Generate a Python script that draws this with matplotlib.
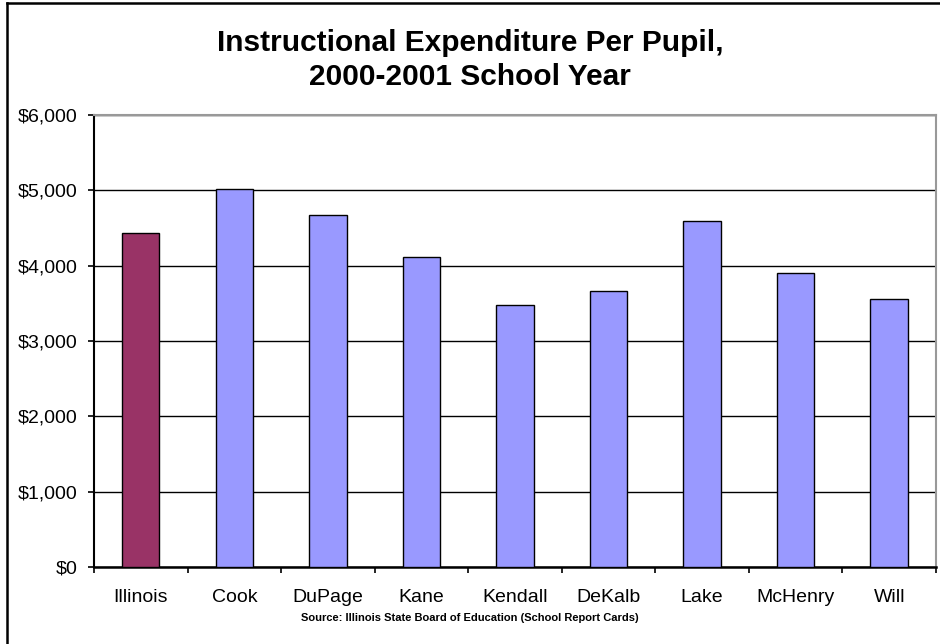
import matplotlib
matplotlib.use("Agg")
import matplotlib.pyplot as plt
from matplotlib.lines import Line2D
from matplotlib.ticker import FuncFormatter, FixedLocator

# datos
regiones = ['Illinois', 'Cook', 'DuPage', 'Kane', 'Kendall', 'DeKalb',
            'Lake', 'McHenry', 'Will']
gasto = [4430, 5012, 4668, 4112, 3477, 3662, 4589, 3901, 3557]
colores = ['#993366'] + ['#9999FF'] * 8

plt.rcParams['font.family'] = ['Liberation Sans', 'DejaVu Sans']

fig = plt.figure(figsize=(9.4, 6.44), dpi=100)
ax = fig.add_axes([0.100, 0.1196, 0.8957, 0.7018])

x = list(range(len(regiones)))
ax.bar(x, gasto, width=0.4, color=colores, edgecolor='black', linewidth=1,
       zorder=3)

ax.set_xlim(-0.5, len(regiones) - 0.5)
ax.set_ylim(0, 6000)
ax.set_yticks(range(0, 6001, 1000))
ax.yaxis.set_major_formatter(FuncFormatter(lambda v, p: '${:,.0f}'.format(v)))
ax.yaxis.grid(True, color='black', linewidth=1, zorder=0)

# etiquetas centradas, marcas entre categorias
ax.set_xticks(x)
ax.set_xticklabels(regiones, fontsize=14)
ax.tick_params(axis='x', which='major', length=0, pad=16)
ax.xaxis.set_minor_locator(FixedLocator([i + 0.5 for i in range(-1, len(regiones))]))
ax.tick_params(axis='x', which='minor', length=4.5, width=1.2, direction='out')
ax.tick_params(axis='y', length=4.5, width=1.2, direction='out', labelsize=14, pad=7.5)

ax.spines['left'].set_color('black')
ax.spines['left'].set_linewidth(1.5)
ax.spines['bottom'].set_color('black')
ax.spines['bottom'].set_linewidth(1.8)
ax.spines['top'].set_color('#999999')
ax.spines['right'].set_color('#999999')
ax.spines['top'].set_linewidth(1.5)
ax.spines['right'].set_linewidth(1.5)
ax.set_axisbelow(True)

fig.text(0.5, 1 - 51 / 644, 'Instructional Expenditure Per Pupil,',
         ha='center', va='baseline', fontsize=21.5, fontweight='bold')
fig.text(0.5, 1 - 85 / 644, '2000-2001 School Year',
         ha='center', va='baseline', fontsize=21.5, fontweight='bold')
fig.text(0.5, 1 - 618 / 644, 'Source: Illinois State Board of Education (School Report Cards)',
         ha='center', va='center', fontsize=8, fontweight='bold')

# borde exterior (solo se ven el lado izquierdo y el superior)
fig.lines.append(Line2D([7 / 940, 7 / 940], [0, 1 - 3 / 644], transform=fig.transFigure,
                        color='black', linewidth=1.8))
fig.lines.append(Line2D([7 / 940, 1], [1 - 3 / 644, 1 - 3 / 644], transform=fig.transFigure,
                        color='black', linewidth=1.8))

fig.savefig('out.png', dpi=100)
